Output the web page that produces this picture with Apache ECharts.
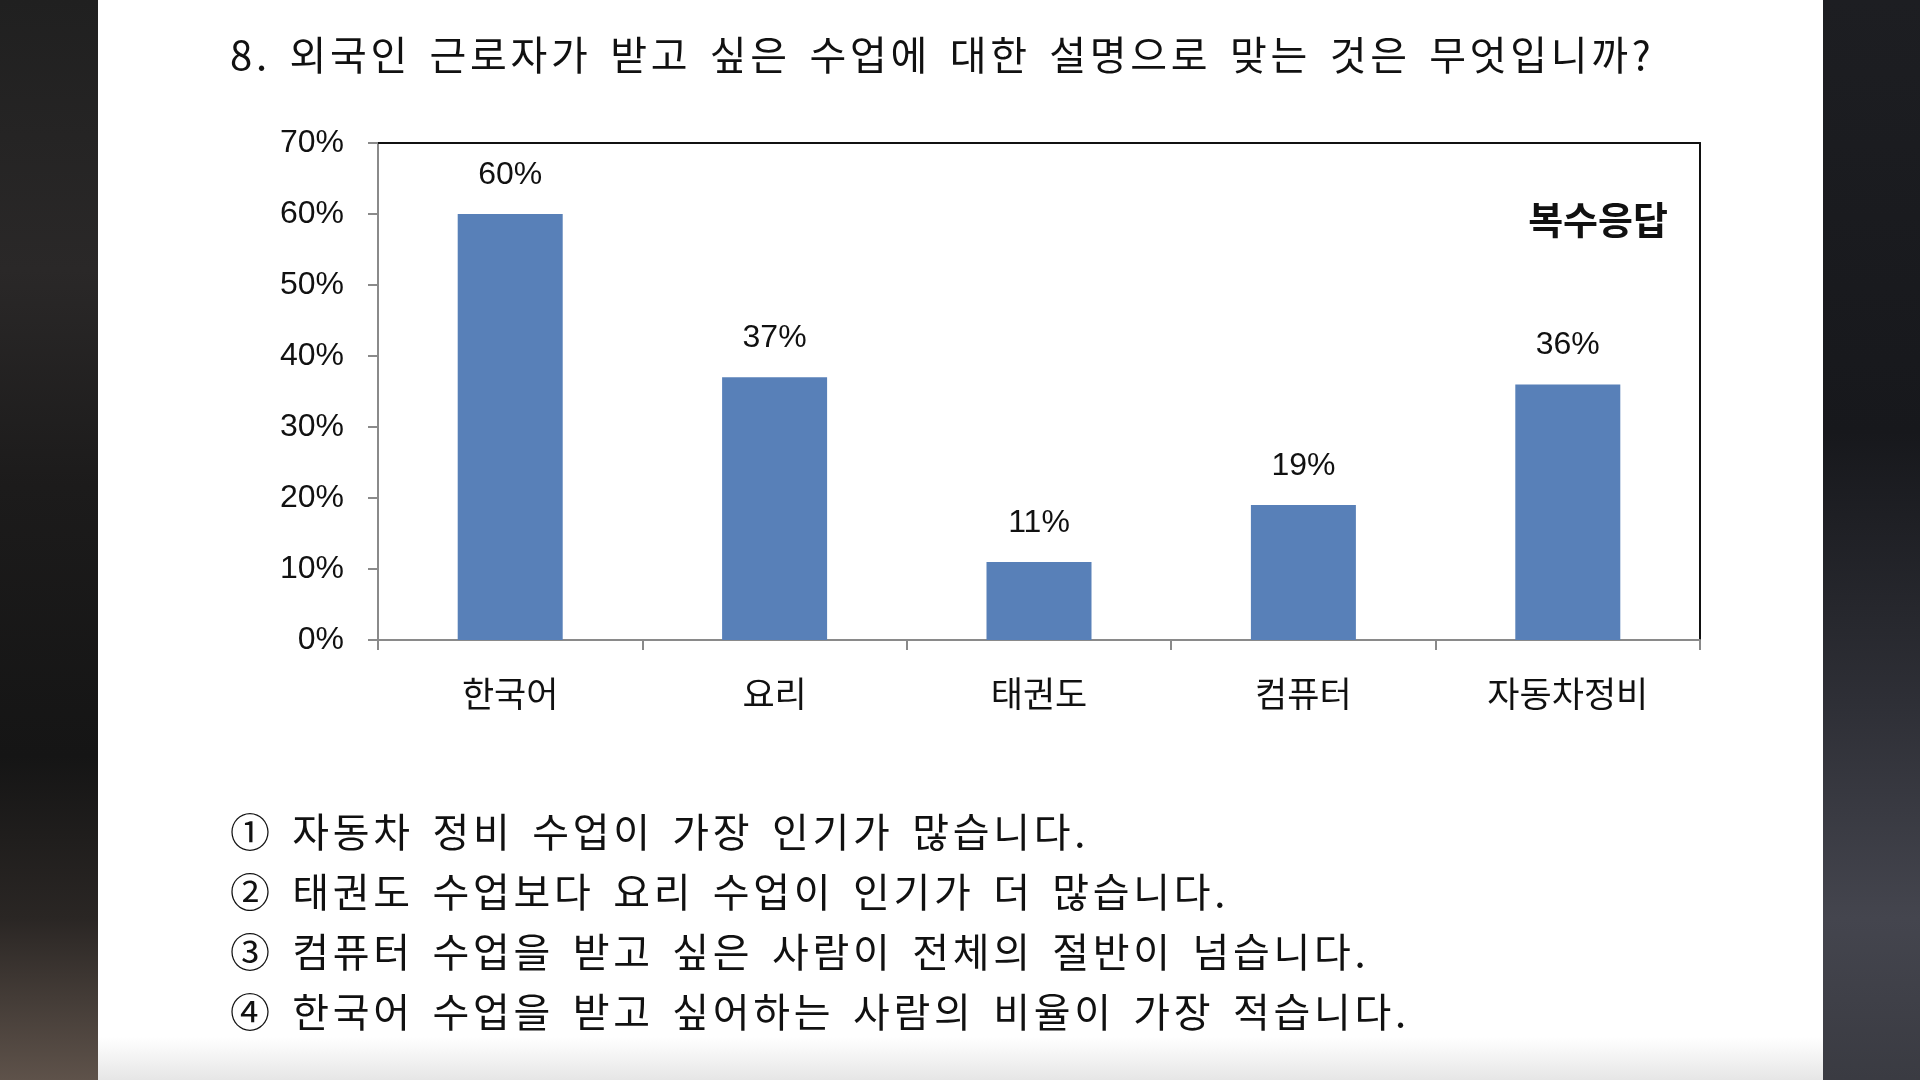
<!DOCTYPE html>
<html>
<head>
<meta charset="utf-8">
<script src="https://cdn.jsdelivr.net/npm/echarts@6/dist/echarts.min.js"></script>
<style>
  html, body { margin: 0; padding: 0; }
  body {
    width: 1920px; height: 1080px; overflow: hidden; position: relative;
    background: #18181a;
  }
  .side-left {
    position: absolute; left: 0; top: 0; width: 98px; height: 1080px;
    background: linear-gradient(180deg, #202020 0%, #2a2828 25%, #1c1b1b 45%, #151515 70%, #2a2624 85%, #5e524a 100%);
  }
  .side-right {
    position: absolute; left: 1823px; top: 0; width: 97px; height: 1080px;
    background: linear-gradient(180deg, #1d1e22 0%, #17181c 40%, #2e2f36 65%, #44454e 85%, #3a3b42 100%);
  }
  .page {
    position: absolute; left: 98px; top: 0; width: 1725px; height: 1080px;
    background: linear-gradient(180deg, #ffffff 0%, #ffffff 96%, #e6e6e6 100%);
  }
  #chart { position: absolute; left: 0; top: 0; width: 1920px; height: 1080px; }
  .txt {
    position: absolute; left: 230px; white-space: pre;
    font-family: "Noto Sans CJK KR", sans-serif; font-size: 40px;
    letter-spacing: 3.7px; word-spacing: 6px; color: #111; line-height: 44px;
  }
</style>
</head>
<body>
<div class="side-left"></div>
<div class="side-right"></div>
<div class="page"></div>
<div id="chart"></div>
<div class="txt" style="top:31px">8. 외국인 근로자가 받고 싶은 수업에 대한 설명으로 맞는 것은 무엇입니까?</div>
<div class="txt" style="top:808px">① 자동차 정비 수업이 가장 인기가 많습니다.</div>
<div class="txt" style="top:868px">② 태권도 수업보다 요리 수업이 인기가 더 많습니다.</div>
<div class="txt" style="top:928px">③ 컴퓨터 수업을 받고 싶은 사람이 전체의 절반이 넘습니다.</div>
<div class="txt" style="top:988px">④ 한국어 수업을 받고 싶어하는 사람의 비율이 가장 적습니다.</div>
<script>
// 수업 종류와 응답 비율
const categories = ['한국어', '요리', '태권도', '컴퓨터', '자동차정비']
const shares = [0.60, 0.37, 0.11, 0.19, 0.36]
const yTicks = [0, 0.1, 0.2, 0.3, 0.4, 0.5, 0.6, 0.7]
const noteText = '복수응답'

const chart = echarts.init(document.getElementById('chart'), null, { renderer: 'canvas' })

const pct = v => Math.round(v * 100) + '%'

const option = {
  backgroundColor: 'transparent',
  animation: false,
  grid: {
    left: 378,
    right: 220,
    top: 143,
    bottom: 440,
    containLabel: false,
    outerBoundsMode: 'none'
  },
  xAxis: [
    {
      type: 'category',
      data: categories,
      axisLine: { onZero: false, lineStyle: { color: '#8a8a8a', width: 2 } },
      axisTick: { show: true, length: 10, lineStyle: { color: '#8a8a8a', width: 2 } },
      axisLabel: {
        margin: 36,
        color: '#111',
        fontSize: 35,
        fontFamily: 'Noto Sans CJK KR'
      }
    },
    {
      // 위쪽 테두리
      type: 'category',
      position: 'top',
      data: categories,
      axisLine: { onZero: false, lineStyle: { color: '#111', width: 2 } },
      axisTick: { show: false },
      axisLabel: { show: false }
    }
  ],
  yAxis: [
    {
      type: 'value',
      min: yTicks[0],
      max: yTicks[yTicks.length - 1],
      interval: 0.1,
      splitLine: { show: false },
      axisLine: { show: true, onZero: false, lineStyle: { color: '#8a8a8a', width: 2 } },
      axisTick: { show: true, length: 10, lineStyle: { color: '#8a8a8a', width: 2 } },
      axisLabel: {
        margin: 34,
        color: '#111',
        fontSize: 32,
        fontFamily: 'Liberation Sans',
        formatter: v => pct(v)
      }
    },
    {
      // 오른쪽 테두리
      type: 'value',
      position: 'right',
      min: yTicks[0],
      max: yTicks[yTicks.length - 1],
      interval: 0.1,
      splitLine: { show: false },
      axisLine: { show: true, onZero: false, lineStyle: { color: '#111', width: 2 } },
      axisTick: { show: false },
      axisLabel: { show: false }
    }
  ],
  series: [
    {
      type: 'bar',
      data: shares,
      barWidth: 105,
      itemStyle: { color: '#5880b8' },
      label: {
        show: true,
        position: 'top',
        distance: 23,
        color: '#111',
        fontSize: 32,
        fontFamily: 'Liberation Sans',
        formatter: p => pct(p.value)
      }
    }
  ],
  graphic: [
    {
      type: 'text',
      x: 1668,
      y: 220,
      style: {
        text: noteText,
        fill: '#111',
        font: 'bold 38px "Noto Sans CJK KR"',
        textAlign: 'right',
        textVerticalAlign: 'middle'
      }
    }
  ]
}

chart.setOption(option)
</script>
</body>
</html>
